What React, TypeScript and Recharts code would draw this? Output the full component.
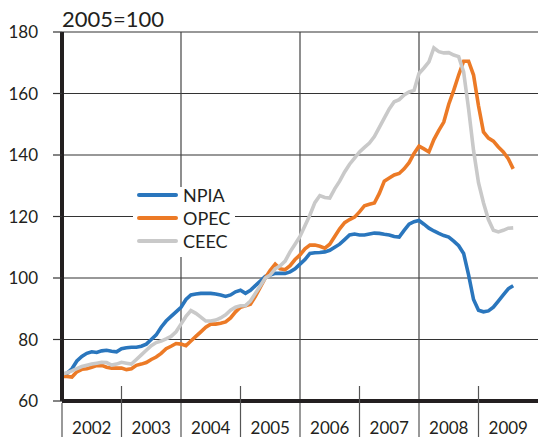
import React from 'react';
import { LineChart, Line, XAxis, YAxis, CartesianGrid, ReferenceLine, Legend } from 'recharts';

// monthly index values, Jan 2002 .. Aug 2009 (2005=100)
const years = ['2002', '2003', '2004', '2005', '2006', '2007', '2008', '2009'];
const yTicks = [60, 80, 100, 120, 140, 160, 180];

const npia = [
  68.5, 69, 70.5, 73, 74.5, 75.5, 76, 75.8, 76.3, 76.5, 76.2, 76,
  77, 77.3, 77.5, 77.5, 77.8, 78.5, 80, 81.5, 84, 86, 87.5, 89,
  90.5, 93, 94.5, 94.8, 95, 95, 95, 94.8, 94.5, 94, 94.5, 95.5,
  96, 95, 96, 97.5, 99, 100.5, 101, 101.5, 101.5, 101.5, 102, 103,
  104.5, 106, 108, 108.2, 108.3, 108.5, 109, 110, 111, 112.5, 114, 114.3,
  114, 114, 114.3, 114.6, 114.5, 114.2, 114, 113.5, 113.3, 115.5, 117.5, 118.3,
  118.7, 117.5, 116.2, 115.3, 114.5, 113.8, 113.3, 112, 110.5, 108, 101, 93,
  89.5, 89, 89.3, 90.5, 92.5, 94.5, 96.5, 97.5,
];

const opec = [
  68, 68, 67.8, 69.5, 70.3, 70.5, 71, 71.5, 71.6, 71, 70.7, 70.7,
  70.7, 70.2, 70.5, 71.6, 72, 72.5, 73.5, 74.3, 75.5, 77, 77.8, 78.7,
  78.5, 78, 79.5, 81, 82.5, 84, 85, 85, 85.3, 85.7, 87, 89,
  90.5, 91, 91.5, 94, 97, 100, 102.5, 104.5, 103, 102.7, 104, 106,
  107.5, 109.5, 110.7, 110.7, 110.3, 109.7, 111, 113.5, 116, 118, 119, 119.8,
  121.5, 123.5, 124, 124.4, 127.5, 131.5, 132.5, 133.5, 134, 135.5, 137.5, 140.5,
  142.9, 142, 141, 145, 148, 150.7, 156.5, 161, 166, 170.5, 170.5, 166,
  156, 147.5, 145.5, 144.5, 142.6, 141, 138.8, 135.5,
];

const ceec = [
  68.8, 69.2, 69.8, 70.5, 71.2, 71.6, 72, 72.3, 72.6, 72.5, 71.7, 72,
  72.6, 72.3, 72, 73.5, 75, 76.5, 78, 79, 79.5, 80.2, 81, 82.5,
  85, 87.5, 89.4, 88.5, 87.3, 86, 86, 86.3, 87, 88, 89.5, 90.5,
  91, 91, 92.5, 95, 97.5, 100, 101, 103, 104, 105.5, 108.5, 111,
  113.5, 117, 120.5, 124.5, 126.8, 126.2, 126, 129, 131.5, 134.5, 137, 139,
  141, 142.5, 143.9, 146, 149, 152, 155, 157.3, 158, 159.5, 160.5, 161,
  166.5, 168.3, 170.3, 174.8, 173.6, 173.2, 173.3, 172.5, 172, 167, 155, 141.5,
  131, 124.5, 119, 115.5, 115, 115.5, 116.2, 116.3,
];

const series = [
  { key: 'npia', name: 'NPIA', color: '#2a76bd' },
  { key: 'opec', name: 'OPEC', color: '#ec7a26' },
  { key: 'ceec', name: 'CEEC', color: '#c9c9c9' },
];

const data = npia.map((v, i) => ({ m: i, npia: v, opec: opec[i], ceec: ceec[i] }));
const yearStarts = years.map((_, i) => i * 12);
const gridYears = [24, 48, 72];

const YearTick = (props: any) => {
  const { x, y, payload } = props;
  const idx = Math.round(payload.value / 12);
  const odd = idx % 2 === 1;
  return (
    <g>
      <line x1={x} x2={x} y1={odd ? y - 15 : y + 2} y2={y + 36} stroke="#555" strokeWidth={1.2} />
      <text x={x + 29.75} y={y + 33} textAnchor="middle" fontSize={17} fill="#231f20">
        {years[idx]}
      </text>
    </g>
  );
};

// legend keeps the series order, not the payload's
const renderLegend = () => (
  <div style={{ position: 'relative', width: 102, height: 70, background: '#fff' }}>
    {series.map((s, i) => (
      <div key={s.key} style={{ position: 'absolute', left: 0, top: i * 23 - 3, height: 22, width: 102 }}>
        <div style={{ position: 'absolute', left: 4, top: 9, width: 41, height: 4, borderRadius: 2, background: s.color }} />
        <div style={{ position: 'absolute', left: 50, top: 0, lineHeight: '22px', fontSize: 18, color: '#231f20' }}>
          {s.name}
        </div>
      </div>
    ))}
  </div>
);

export default function App() {
  return (
    <div style={{ position: 'absolute', left: 0, top: 0, width: 538, height: 437, fontFamily: 'Lato', background: '#fff' }}>
      <div style={{ position: 'absolute', left: 62, top: 8, fontSize: 22, lineHeight: '22px', color: '#231f20' }}>2005=100</div>
      <LineChart width={538} height={437} data={data} margin={{ top: 32, right: 0, bottom: 0, left: 0 }}>
        <CartesianGrid vertical={false} stroke="#333" strokeWidth={1.2} />
        {gridYears.map((g) => (
          <ReferenceLine key={g} x={g} stroke="#444" strokeWidth={1.2} />
        ))}
        <XAxis
          dataKey="m"
          type="number"
          domain={[0, 96]}
          ticks={yearStarts}
          interval={0}
          height={36}
          tickSize={0}
          tickMargin={0}
          tickLine={false}
          tick={<YearTick />}
          axisLine={{ stroke: '#231f20', strokeWidth: 4 }}
        />
        <YAxis
          type="number"
          domain={[60, 180]}
          ticks={yTicks}
          interval={0}
          width={62}
          tickSize={9}
          tickMargin={15}
          tickLine={{ stroke: '#333', strokeWidth: 1.2 }}
          tick={{ fill: '#231f20', fontSize: 17 }}
          axisLine={{ stroke: '#231f20', strokeWidth: 4 }}
        />
        <Legend
          layout="vertical"
          align="center"
          verticalAlign="middle"
          content={renderLegend}
          wrapperStyle={{ left: 133, top: 187, width: 102, height: 70 }}
        />
        {series.map((s) => (
          <Line
            key={s.key}
            type="linear"
            dataKey={s.key}
            name={s.name}
            stroke={s.color}
            strokeWidth={3.6}
            dot={false}
            isAnimationActive={false}
          />
        ))}
      </LineChart>
    </div>
  );
}
